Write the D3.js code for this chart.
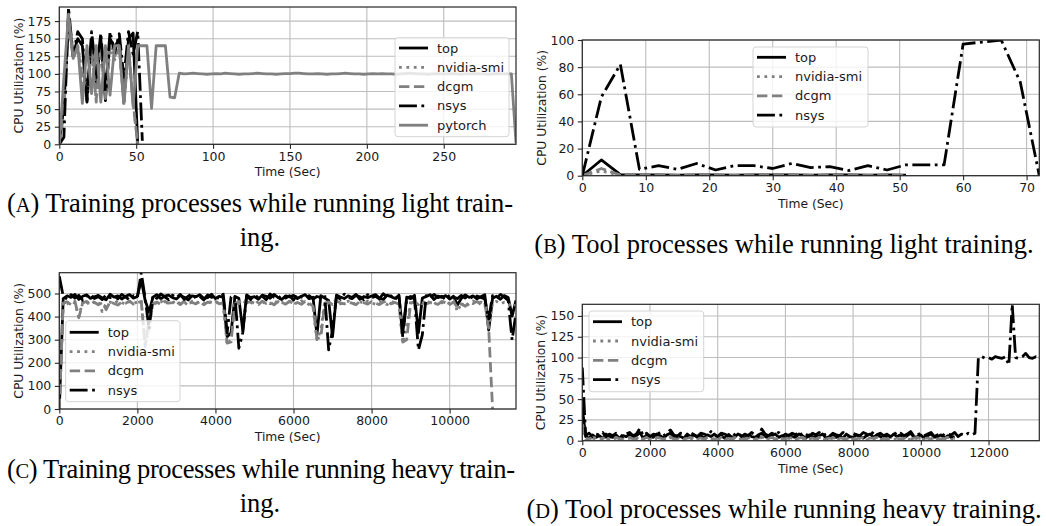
<!DOCTYPE html>
<html><head><meta charset="utf-8">
<script src="https://cdn.jsdelivr.net/npm/d3@7"></script>
<style>
body{margin:0;background:#fff;}
.cap{font-family:"Liberation Serif","Times New Roman",serif;font-size:26.5px;fill:#000;}
</style></head><body>
<svg id="c" width="1046" height="526"></svg>
<script>
// ---------------- DATA ----------------
const seriesNames = ['top','nvidia-smi','dcgm','nsys','pytorch'];

// Panel A: training processes, light training (sample every 3 s)
const stepA = 3;
const xTicksA = [0,50,100,150,200,250];
const yTicksA = [0,25,50,75,100,125,150,175];
const xLimA = [0,297], yLimA = [0,195];
const topA   = [0,55,180,128,150,140,60,150,85,150,62,150,138,150,60,150,158,0];
const nvsmiA = [0,40,170,125,140,100,70,140,60,140,65,140,120,140,60,138,60,0];
const dcgmA  = [0,45,175,122,138,95,65,138,62,138,68,138,125,138,55,136,58,0];
const nsysA  = [0,10,194,125,160,150,62,160,100,158,75,160,130,157,95,160,128,160,5];
const pytorchA = [0,95,185,122,140,58,140,72,140,60,
 140,70,140,140,58,140,54,140,140,140,
 51,140,140,140,67,66,101,100,100.5,101,
 100.5,100,99.5,100,100.5,100,101,100.5,100,99.5,
 100,100,100.5,101,100.5,100,100,99.5,100,100.5,
 100.5,101,101,100.5,100,100,100.5,100,99.5,100,
 100,100.5,101,100.5,100,100,99.5,100,100.5,100,
 100.5,100,100,99.5,100,100.5,101,100.5,100,100,
 99.5,100,100.5,100,100,100.5,100,99.5,100,100,
 100.5,100,100,99.5,100,100.5,100,100,100,2];

// Panel B: tool processes, light training (sample every 3 s)
const stepB = 3;
const xTicksB = [0,10,20,30,40,50,60,70];
const yTicksB = [0,20,40,60,80,100];
const xLimB = [0,72], yLimB = [0,100];
const topB   = [0,11.6,0.8,0.5,0.5,0.4,0.6,0.5,0.4,0.5,0.5,0.6,0.4,0.5,0.5,0.4,0.5,0.4];
const nvsmiB = [0,3.5,0.3,0.2,0.3,0.2,0.3,0.2,0.2,0.3,0.2,0.3,0.2,0.2,0.3,0.2,0.2,0.2];
const dcgmB  = [0,5.3,0.5,0.3,0.4,0.3,0.4,0.3,0.3,0.4,0.3,0.4,0.3,0.3,0.4,0.3,0.3,0.3];
const nsysB  = [0,58,82,4.7,7.4,4.7,9,4.2,7.4,7.4,5.3,9,6,6.7,3.8,7.4,4.2,8,8,8,97,98.5,100,69,0];

// Panel C: training processes, heavy training (sample every 100 s)
const stepC = 100;
const xTicksC = [0,2000,4000,6000,8000,10000];
const yTicksC = [0,100,200,300,400,500];
const xLimC = [0,11700], yLimC = [0,590];
const topC = [0,478,490,483,496,475,488,494,479,486,
 492,481,473,497,484,490,476,488,495,480,
 487,560,470,420,484,495,477,489,493,482,
 476,491,484,472,490,486,495,479,482,497,
 478,488,483,313,330,487,479,340,494,482,
 486,475,493,488,479,496,483,474,490,485,
 492,478,488,495,477,484,320,491,480,470,
 313,493,485,478,490,483,496,474,487,482,
 489,495,480,474,493,486,479,490,330,484,
 478,492,330,480,487,495,474,489,483,491,
 476,488,450,479,494,483,490,477,486,495,
 342,480,488,475,491,483,402,470];
const nvsmiC = [0,462,455,468,458,400,465,452,470,460,
 466,422,458,463,455,469,461,452,466,457,
 463,470,277,350,460,456,468,452,465,459,
 470,455,462,450,467,458,463,454,469,461,
 456,466,452,278,300,463,455,468,458,462,
 451,467,459,464,455,470,457,462,452,466,
 460,455,468,461,452,440,300,340,466,458,
 463,470,455,461,467,452,460,465,456,468,
 459,454,466,461,452,467,458,463,285,350,
 466,458,463,455,468,460,452,466,459,463,
 455,469,422,460,440,456,468,459,463,455,
 350,460,466,455,462,458,440,452];
const dcgmC = [0,458,464,452,467,395,459,466,455,462,
 451,460,430,465,457,450,463,458,467,454,
 461,465,270,380,455,463,452,466,458,460,
 464,452,467,457,461,455,468,451,463,458,
 466,455,461,285,290,456,466,452,460,465,
 458,452,467,457,463,451,465,458,454,467,
 455,461,453,466,458,445,305,310,458,464,
 452,467,460,455,463,458,451,466,460,454,
 465,458,452,463,468,455,461,454,290,300,
 458,464,452,467,455,461,458,453,466,460,
 452,463,440,455,445,462,456,466,452,460,
 350,0];
const nsysC = [575,488,476,495,480,492,471,489,497,478,
 486,474,494,482,490,477,496,484,472,491,
 483,590,478,345,492,479,498,485,473,493,
 481,496,475,488,499,479,487,472,494,483,
 490,476,497,330,485,492,263,330,489,474,
 495,481,488,473,498,484,477,493,480,490,
 472,496,485,479,491,476,487,482,494,256,
 340,489,475,497,483,478,492,486,473,495,
 481,488,477,499,484,490,474,493,310,480,
 487,476,256,321,491,479,496,482,488,473,
 494,485,478,492,480,497,474,489,483,476,
 390,491,478,496,484,470,299,415];

// Panel D: tool processes, heavy training (sample every 100 s)
const stepD = 100;
const xTicksD = [0,2000,4000,6000,8000,10000,12000];
const yTicksD = [0,25,50,75,100,125,150];
const xLimD = [0,13500], yLimD = [0,164];
const topD = [40,5,3,7,4,6,3,8,5,4,
 7,3,6,5,8,4,6,10,3,7,
 5,4,8,6,3,7,9,4,6,5,
 3,8,5,7,4,6,3,7,5,8,
 4,6,3,7,5,4,8,6,3,7,
 5,4,7,9,5,3,6,8,4,6,
 3,7,5,4,8,6,3,7,5,4,
 6,8,3,5,7,4,6,3,8,5,
 4,7,5,3,6,8,4,7,5,3,
 6,4,8,5,7,3,6,9,4,5,
 7,3,6,8,4,5,7,3,6,4,
 5];
const nvsmiD = [10,2,1,3,2,1,2,3,1,2,
 3,1,2,2,3,1,2,4,1,3,
 2,1,3,2,1,2,4,1,2,3,
 1,2,3,1,2,2,1,3,2,1,
 2,3,1,2,1,3,2,2,1,3,
 2,1,2,4,1,2,3,1,2,2,
 1,3,2,1,2,3,1,2,2,1,
 3,2,1,2,3,1,2,2,1,3,
 2,1,3,2,1,2,2,3,1,2,
 1,3,2,2,1,3,2,1,2,3,
 1,2,2,1,3,2,1,2,3,1,
 2];
const dcgmD = [20,3,2,4,3,2,3,4,2,3,
 4,2,3,3,4,2,3,5,2,4,
 3,2,4,3,2,3,5,2,3,4,
 2,3,4,2,3,3,2,4,3,2,
 3,4,2,3,2,4,3,3,2,4,
 3,2,3,5,2,3,4,2,3,3,
 2,4,3,2,3,4,2,3,3,2,
 4,3,2,3,4,2,3,3,2,4,
 3,2,4,3,2,3,3,4,2,3,
 2,4,3,3,2,4,3,2,3,4,
 2,3,3,2,4,3,2,3,4,2,
 3];
const nsysD = [88,6,9,5,8,7,10,5,8,6,
 9,7,5,8,10,6,8,15,6,9,
 5,8,7,10,6,9,13,7,5,9,
 8,6,10,7,5,9,8,6,11,7,
 5,9,8,6,10,7,9,5,8,6,
 10,7,5,14,8,6,9,7,10,5,
 8,6,9,7,11,6,8,5,9,7,
 10,6,8,5,9,7,6,10,8,5,
 9,7,6,10,8,5,11,7,9,6,
 8,5,10,7,9,6,8,11,5,7,
 9,6,8,10,5,7,9,6,8,7,
 10,5,8,6,9,7,9,100,101,99,
 100,98,101,100,99,101,91,164,100,99,
 101,105,100,99,101,100];

const captionA = ['Training processes while running light train-','ing.'];
const captionB = 'Tool processes while running light training.';
const captionC = ['Training processes while running heavy train-','ing.'];
const captionD = 'Tool processes while running heavy training.';

// ---------------- DRAWING ----------------
const svg = d3.select('#c');
const SANS = '"DejaVu Sans", sans-serif';
const LW = 2.8;
const styleOf = {
  'top': {c:'#000', d:null},
  'nvidia-smi': {c:'#808080', d:'2.8,4.6'},
  'dcgm': {c:'#808080', d:'10.4,4.5'},
  'nsys': {c:'#000', d:'17.9,4.5,2.8,4.5'},
  'pytorch': {c:'#808080', d:null}
};

function panel(cfg){
  const {name, box, xLim, yLim, xTicks, yTicks, step, series, legend, ylabX} = cfg;
  const x = d3.scaleLinear().domain(xLim).range([box.l, box.r]);
  const y = d3.scaleLinear().domain(yLim).range([box.b, box.t]);
  const g = svg.append('g');
  const cid = 'clip' + name;
  svg.append('clipPath').attr('id', cid).append('rect')
    .attr('x', box.l).attr('y', box.t).attr('width', box.r - box.l).attr('height', box.b - box.t);

  // grid
  g.append('g').selectAll('line').data(xTicks).join('line')
    .attr('x1', d => x(d)).attr('x2', d => x(d)).attr('y1', box.t).attr('y2', box.b)
    .attr('stroke', '#bdbdbd').attr('stroke-width', 1.1);
  g.append('g').selectAll('line').data(yTicks).join('line')
    .attr('y1', d => y(d)).attr('y2', d => y(d)).attr('x1', box.l).attr('x2', box.r)
    .attr('stroke', '#bdbdbd').attr('stroke-width', 1.1);

  // series
  const lg = g.append('g').attr('clip-path', `url(#${cid})`);
  const line = d3.line().x((d, i) => x(i * step)).y(d => y(d));
  series.forEach(s => {
    const st = styleOf[s.name];
    lg.append('path').attr('d', line(s.values)).attr('fill', 'none')
      .attr('stroke', st.c).attr('stroke-width', LW)
      .attr('stroke-dasharray', st.d).attr('stroke-linejoin', 'round');
  });

  // frame
  g.append('rect').attr('x', box.l).attr('y', box.t).attr('width', box.r - box.l).attr('height', box.b - box.t)
    .attr('fill', 'none').attr('stroke', '#262626').attr('stroke-width', 1.2);

  // axes
  const ax = g.append('g').attr('transform', `translate(0,${box.b})`)
    .call(d3.axisBottom(x).tickValues(xTicks).tickFormat(d3.format('d')).tickSize(4.5).tickPadding(3));
  const ay = g.append('g').attr('transform', `translate(${box.l},0)`)
    .call(d3.axisLeft(y).tickValues(yTicks).tickFormat(d3.format('d')).tickSize(4.5).tickPadding(3.5));
  [ax, ay].forEach(a => {
    a.select('.domain').remove();
    a.attr('font-family', SANS).attr('font-size', 12.5);
    a.selectAll('line').attr('stroke', '#262626').attr('stroke-width', 1.1);
    a.selectAll('text').attr('fill', '#1a1a1a');
  });

  // axis labels
  g.append('text').attr('x', (box.l + box.r) / 2).attr('y', box.b + 32)
    .attr('text-anchor', 'middle').attr('font-family', SANS).attr('font-size', 12.3).attr('fill', '#1a1a1a')
    .text('Time (Sec)');
  g.append('text').attr('transform', `translate(${ylabX},${(box.t + box.b) / 2}) rotate(-90)`)
    .attr('text-anchor', 'middle').attr('dominant-baseline', 'central')
    .attr('font-family', SANS).attr('font-size', 12.3).attr('fill', '#1a1a1a')
    .text('CPU Utilization (%)');

  // legend
  const L = g.append('g');
  L.append('rect').attr('x', legend.x).attr('y', legend.y).attr('width', legend.w).attr('height', legend.h)
    .attr('rx', 3).attr('fill', '#fff').attr('fill-opacity', 0.8).attr('stroke', '#d4d4d4').attr('stroke-width', 1);
  series.forEach((s, i) => {
    const st = styleOf[s.name];
    const ry = legend.row0 + i * 19.3;
    L.append('line').attr('x1', legend.x + 4).attr('x2', legend.x + 33).attr('y1', ry).attr('y2', ry)
      .attr('stroke', st.c).attr('stroke-width', LW).attr('stroke-dasharray', st.d);
    L.append('text').attr('x', legend.x + 42).attr('y', ry).attr('dominant-baseline', 'central')
      .attr('font-family', SANS).attr('font-size', 13).attr('fill', '#1a1a1a').text(s.name);
  });
}

function mk(names, arrays){ return names.map((n, i) => ({name: n, values: arrays[i]})); }

panel({name:'A', box:{l:59.3, r:516, t:7, b:144.3}, xLim:xLimA, yLim:yLimA, xTicks:xTicksA, yTicks:yTicksA,
  step:stepA, series: mk(seriesNames, [topA, nvsmiA, dcgmA, nsysA, pytorchA]),
  legend:{x:395, y:37.7, w:114, h:99, row0:48}, ylabX:19});
panel({name:'B', box:{l:582.3, r:1039.3, t:40, b:175.7}, xLim:xLimB, yLim:yLimB, xTicks:xTicksB, yTicks:yTicksB,
  step:stepB, series: mk(seriesNames.slice(0,4), [topB, nvsmiB, dcgmB, nsysB]),
  legend:{x:753, y:47, w:115, h:80, row0:57.3}, ylabX:542});
panel({name:'C', box:{l:59.3, r:516, t:272.7, b:409}, xLim:xLimC, yLim:yLimC, xTicks:xTicksC, yTicks:yTicksC,
  step:stepC, series: mk(seriesNames.slice(0,4), [topC, nvsmiC, dcgmC, nsysC]),
  legend:{x:65.7, y:320.7, w:114.3, h:81, row0:332.3}, ylabX:19});
panel({name:'D', box:{l:582.3, r:1039.3, t:304.3, b:440.7}, xLim:xLimD, yLim:yLimD, xTicks:xTicksD, yTicks:yTicksD,
  step:stepD, series: mk(seriesNames.slice(0,4), [topD, nvsmiD, dcgmD, nsysD]),
  legend:{x:589, y:311, w:114.7, h:80.7, row0:321.7}, ylabX:541});

// captions
function capLine(x, y, letter, text, anchor, len){
  const t = svg.append('text').attr('class', 'cap').attr('x', x).attr('y', y).attr('text-anchor', anchor);
  if (len) t.attr('textLength', len).attr('lengthAdjust', 'spacing');
  if (letter){
    t.append('tspan').text('(');
    t.append('tspan').attr('font-size', '20.5px').text(letter);
    t.append('tspan').text(') ' + text);
  } else t.text(text);
}
capLine(7, 212, 'A', captionA[0], 'start', 506);
capLine(260, 246, null, captionA[1], 'middle');
capLine(784, 252.5, 'B', captionB, 'middle');
capLine(7, 478, 'C', captionC[0], 'start', 508);
capLine(260, 512, null, captionC[1], 'middle');
capLine(784, 517.5, 'D', captionD, 'middle');
</script></body></html>
